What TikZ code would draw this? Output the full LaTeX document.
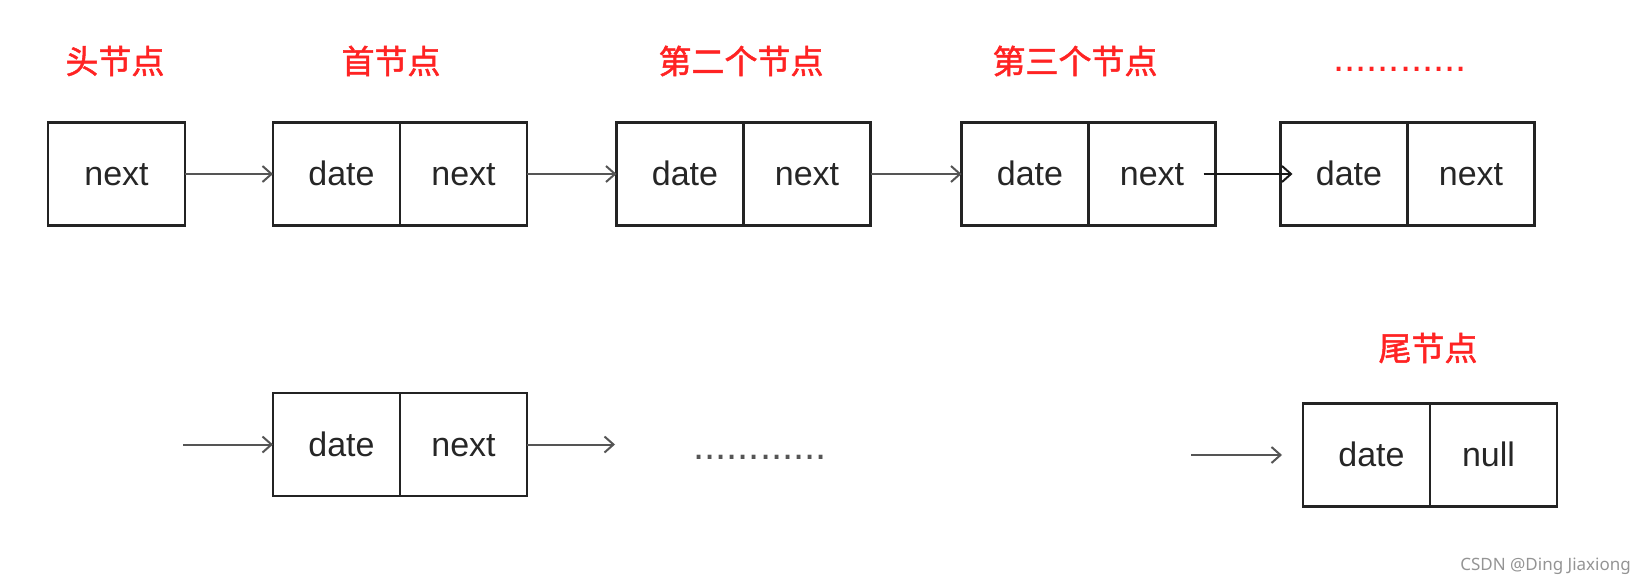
\documentclass[tikz,border=0pt]{standalone}
\usepackage{fontspec}
\setmainfont{Liberation Sans}
\newfontfamily\cjk[FakeBold=1.5]{Noto Sans CJK SC}
\newfontfamily\wmfont{Noto Sans}
\usetikzlibrary{arrows.meta}
\definecolor{lblred}{RGB}{255,35,35}
\definecolor{arrgray}{RGB}{85,85,85}
\definecolor{boxline}{RGB}{35,35,35}
\tikzset{
  cell/.style={draw=boxline, line width=2.6pt, minimum width=127pt, minimum height=103pt,
    inner sep=0pt, outer sep=0pt, text height=27pt, text depth=4pt,
    font=\fontsize{34}{40}\selectfont, text=black!85},
  lbl/.style={text=lblred, font=\cjk\fontsize{33}{38}\selectfont},
  link/.style={draw=arrgray, line width=2pt, -{Straight Barb[length=9pt,width=16pt,line width=2pt]}},
  dotrow/.style={font=\fontsize{40}{40}\selectfont, inner sep=0pt},
}
\begin{document}
\begin{tikzpicture}[x=1pt,y=-1pt]
\useasboundingbox (0,0) rectangle (1645,586);
% labels
\node[lbl] (l0) at (115,61) {头节点};
\node[lbl] (l1) at (391,61) {首节点};
\node[lbl] (l2) at (741,61) {第二个节点};
\node[lbl] (l3) at (1075,61) {第三个节点};
\node[dotrow, text=lblred] (d1) at (1400,69) {............};
\node[lbl] (l4) at (1428,348) {尾节点};
% row 1
\node[cell, minimum width=137pt] (h) at (116.5,174) {next};
\node[cell] (n1d) at (336.5,174) {\hspace*{10pt}date};
\node[cell, anchor=west] (n1n) at (n1d.east) {next};
\node[cell] (n2d) at (680,174) {\hspace*{10pt}date};
\node[cell, anchor=west] (n2n) at (n2d.east) {next};
\node[cell] (n3d) at (1025,174) {\hspace*{10pt}date};
\node[cell, anchor=west] (n3n) at (n3d.east) {next};
\node[cell] (n4d) at (1344,174) {\hspace*{10pt}date};
\node[cell, anchor=west] (n4n) at (n4d.east) {next};
\draw[link] (h.east) -- (n1d.west);
\draw[link] (n1n.east) -- (n2d.west);
\draw[link] (n2n.east) -- (n3d.west);
\draw[link, draw=black!90] ([xshift=-12pt]n3n.east) -- ([xshift=12pt]n4d.west);
% row 2
\node[cell] (n5d) at (336.5,444.5) {\hspace*{10pt}date};
\node[cell, anchor=west] (n5n) at (n5d.east) {next};
\coordinate (in5) at (183,444.5);
\coordinate (out5) at (615,444.5);
\draw[link] (in5) -- (n5d.west);
\draw[link] (n5n.east) -- (out5);
\node[dotrow, text=arrgray] (d2) at (760,457) {............};
\node[cell] (td) at (1366.5,455) {\hspace*{10pt}date};
\node[cell, anchor=west] (tn) at (td.east) {null\hspace*{10pt}};
\coordinate (intl) at (1191,455);
\coordinate (endtl) at (1282,455);
\draw[link] (intl) -- (endtl);
% watermark
\node[anchor=east, text=black!42, font=\wmfont\fontsize{17}{20}\selectfont, inner sep=0pt] (wm) at (1631,566) {CSDN @Ding Jiaxiong};
\end{tikzpicture}
\end{document}
